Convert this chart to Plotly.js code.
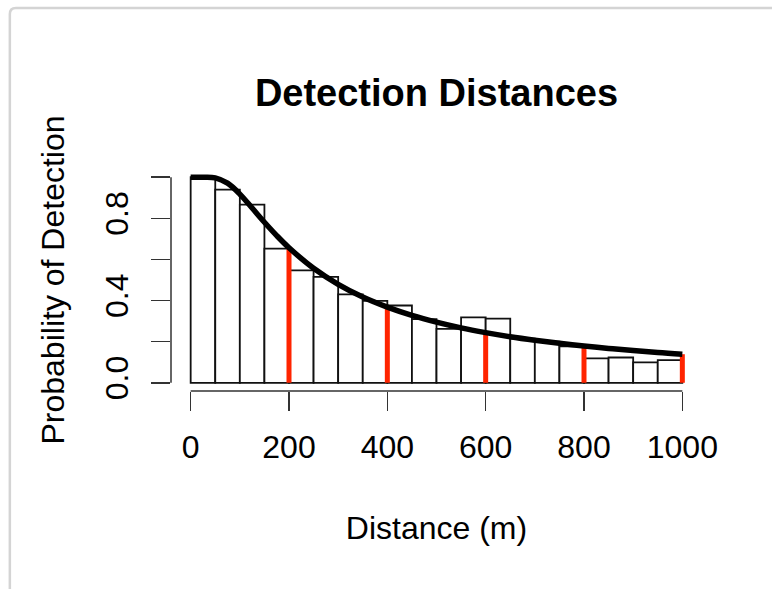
<!DOCTYPE html>
<html>
<head>
<meta charset="utf-8">
<script src="https://cdn.plot.ly/plotly-3.0.1.min.js"></script>
<style>html,body{margin:0;padding:0;background:#fff;}#chart{width:772px;height:589px;}</style>
</head>
<body>
<div id="chart"></div>
<script>
// Histogram bins (left edge, metres) and bar heights
const binStart = [0,50,100,150,200,250,300,350,400,450,500,550,600,650,700,750,800,850,900,950];
const binHeight = [1.0,0.94,0.867,0.653,0.547,0.515,0.43,0.398,0.376,0.31,0.262,0.318,0.312,0.215,0.2,0.177,0.119,0.123,0.099,0.11];
const binWidth = 50;

// Fitted detection curve
const curveX = [0,25,50,75,100,125,150,175,200,250,300,350,400,450,500,550,600,650,700,750,800,850,900,950,1000];
const curveY = [1.0,1.0,0.997,0.971,0.918,0.85,0.781,0.716,0.657,0.557,0.479,0.417,0.368,0.328,0.295,0.267,0.244,0.224,0.207,0.192,0.179,0.167,0.157,0.147,0.139];

// Red marker lines at these distances, from 0 up to the curve
const markX = [200,400,600,800,1000];
const markY = [0.657,0.368,0.244,0.179,0.139];

const xTicks = [0,200,400,600,800,1000];
const yTicks = [0,0.2,0.4,0.6,0.8,1.0];
const yTickText = ['0.0','','0.4','','0.8',''];

const redX = [], redY = [];
markX.forEach((v,i)=>{ redX.push(v,v,null); redY.push(0,markY[i],null); });

const font = 'Liberation Sans, Arial, Helvetica, sans-serif';

const traces = [
  {type:'bar', x:binStart, y:binHeight, width:binWidth, offset:0,
   marker:{color:'#ffffff', line:{color:'#111111', width:1.8}}, hoverinfo:'skip', showlegend:false},
  {type:'scatter', mode:'lines', x:redX, y:redY, line:{color:'#ff2400', width:5}, showlegend:false, cliponaxis:false},
  {type:'scatter', mode:'lines', x:curveX, y:curveY, line:{color:'#000000', width:5.5, shape:'spline'}, showlegend:false}
];

// paper-coordinate path for the panel border
const border = 'M -0.3035,-1 L -0.3035,1.698 Q -0.3035,1.7253 -0.2922,1.7253 L 1.6,1.7253';

const layout = {
  width:772, height:589,
  margin:{l:171.4, r:70.4, t:168.8, b:197.8, pad:0},
  paper_bgcolor:'#ffffff', plot_bgcolor:'#ffffff',
  font:{family:font, size:32, color:'#000'},
  bargap:0,
  title:{text:'<b>Detection Distances</b>', font:{family:font, size:38, color:'#000'},
         x:0.5, xref:'paper', xanchor:'center', y:1-93/589, yref:'container', yanchor:'middle'},
  xaxis:{range:[-40,1040], tickvals:xTicks, ticktext:xTicks.map(String), ticks:'outside', ticklen:19, tickwidth:1.5, tickcolor:'#333',
         showline:false, showgrid:false, zeroline:false, automargin:false, ticklabelstandoff:9,
         tickfont:{family:font, size:32, color:'#000'},
         title:{text:'Distance (m)', font:{family:font, size:32, color:'#000'}, standoff:52}},
  yaxis:{range:[-0.04,1.04], tickvals:yTicks, ticktext:yTickText, tickangle:-90, ticks:'outside', ticklen:19, tickwidth:1.5, tickcolor:'#333',
         showline:false, showgrid:false, zeroline:false, automargin:false, ticklabelstandoff:10,
         tickfont:{family:font, size:32, color:'#000'},
         title:{text:'Probability of Detection', font:{family:font, size:32, color:'#000'}, standoff:25}},
  shapes:[
    {type:'line', xref:'x', yref:'paper', x0:0, x1:1000, y0:0, y1:0, line:{color:'#333', width:1.5}},
    {type:'line', xref:'paper', yref:'y', x0:0, x1:0, y0:0, y1:1, line:{color:'#333', width:1.5}},
    {type:'path', xref:'paper', yref:'paper', path:border, line:{color:'#d4d4d4', width:2.5}, layer:'below'}
  ]
};

Plotly.newPlot('chart', traces, layout, {displayModeBar:false, staticPlot:true});
</script>
</body>
</html>
